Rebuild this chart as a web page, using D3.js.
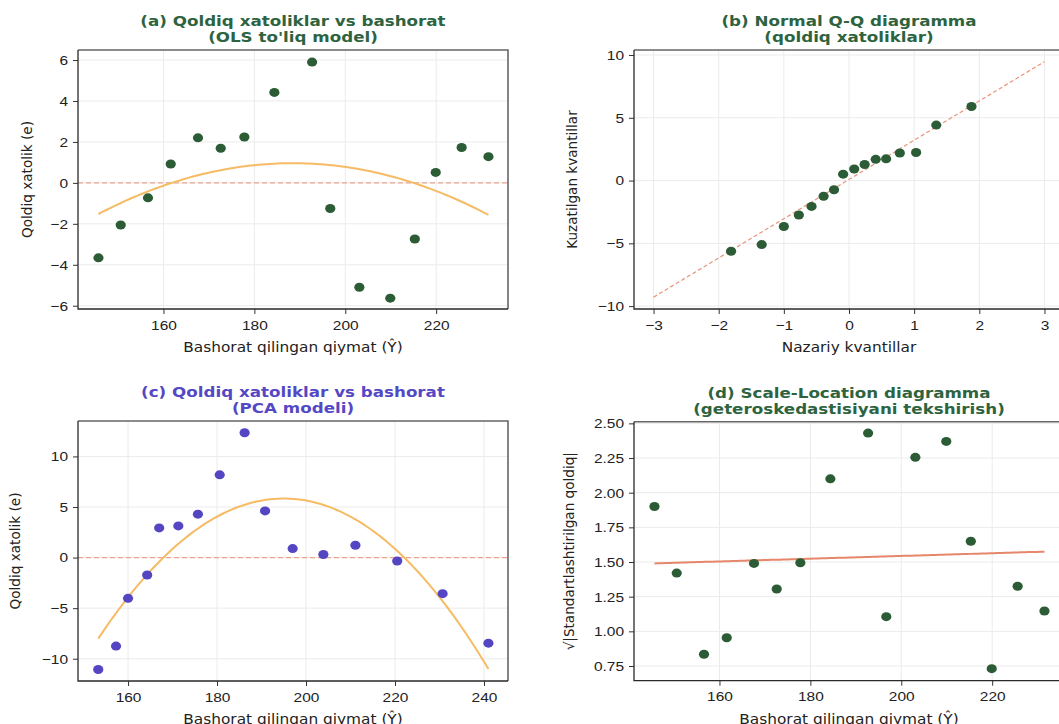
<!DOCTYPE html>
<html lang="en">
<head>
<meta charset="utf-8">
<script src="https://cdn.jsdelivr.net/npm/d3@7"></script>
<style>
    body { margin: 0; background: #fff; }
    svg { display: block; font-family: "DejaVu Sans", sans-serif; }
    .tick text { font-size: 13.7px; fill: #222; transform-box: fill-box; transform: scaleX(1.13); }
    .xax .tick text { transform-origin: center; }
    .yax .tick text { transform-origin: right center; }
    .hs { transform-box: fill-box; transform-origin: center; transform: scaleX(1.13); }
    .tick line { stroke: #333; }
    .domain { display: none; }
    .grid line { stroke: #ebebeb; stroke-width: 1; }
</style>
</head>
<body>
<script>
// (a) OLS model: fitted values and residuals
const fittedA = [145.7, 150.6, 156.6, 161.6, 167.6, 172.6, 177.8, 184.4, 192.7, 196.7, 203.1, 209.9, 215.3, 219.9, 225.6, 231.5];
const residA  = [-3.66, -2.06, -0.73, 0.92, 2.20, 1.69, 2.24, 4.42, 5.90, -1.25, -5.10, -5.63, -2.74, 0.51, 1.73, 1.28];

// (b) Q-Q: theoretical vs ordered residuals, plus reference line
const qqTheory   = [-1.81, -1.34, -1.00, -0.77, -0.575, -0.39, -0.23, -0.09, 0.08, 0.24, 0.41, 0.57, 0.78, 1.03, 1.34, 1.88];
const qqObserved = [-5.63, -5.10, -3.66, -2.74, -2.06, -1.25, -0.73, 0.51, 0.92, 1.28, 1.69, 1.73, 2.20, 2.24, 4.42, 5.90];
const qqLineX = [-3, 3];
const qqLineY = [-9.29, 9.47];

// (c) PCA model
const fittedC = [153.3, 157.3, 160.0, 164.3, 167.0, 171.3, 175.7, 180.6, 186.2, 190.8, 197.0, 203.9, 211.1, 220.5, 230.7, 241.0];
const residC  = [-11.06, -8.75, -4.03, -1.72, 2.93, 3.13, 4.29, 8.18, 12.34, 4.61, 0.89, 0.30, 1.22, -0.34, -3.57, -8.46];

// (d) scale-location
const sqrtStdResid = [1.90, 1.42, 0.835, 0.954, 1.49, 1.305, 1.495, 2.10, 2.43, 1.106, 2.255, 2.37, 1.65, 0.731, 1.325, 1.147];

const titles = [
    ["(a) Qoldiq xatoliklar vs bashorat", "(OLS to'liq model)"],
    ["(b) Normal Q-Q diagramma", "(qoldiq xatoliklar)"],
    ["(c) Qoldiq xatoliklar vs bashorat", "(PCA modeli)"],
    ["(d) Scale-Location diagramma", "(geteroskedastisiyani tekshirish)"]
];
const xLabels = ["Bashorat qilingan qiymat (\u0176)", "Nazariy kvantillar", "Bashorat qilingan qiymat (\u0176)", "Bashorat qilingan qiymat (\u0176)"];
const yLabels = ["Qoldiq xatolik (e)", "Kuzatilgan kvantillar", "Qoldiq xatolik (e)", "\u221A|Standartlashtirilgan qoldiq|"];

const green = "#2b5c35", purple = "#5446c2";
const titleGreen = "#2e6340", titlePurple = "#5548c4";
const orange = "#f5b75c", salmon = "#e9937a";

const w = 1059, h = 724;
const svg = d3.select("body").append("svg").attr("width", w).attr("height", h);

// least squares polynomial fit (deg 1 or 2)
function polyfit(xs, ys, deg) {
    let n = deg + 1;
    let A = [], b = [];
    for (let i = 0; i < n; i++) {
        A.push([]);
        for (let j = 0; j < n; j++) A[i].push(d3.sum(xs, x => Math.pow(x, i + j)));
        b.push(d3.sum(xs, (x, k) => Math.pow(x, i) * ys[k]));
    }
    for (let c = 0; c < n; c++) {
        for (let r = c + 1; r < n; r++) {
            let f = A[r][c] / A[c][c];
            for (let k = c; k < n; k++) A[r][k] -= f * A[c][k];
            b[r] -= f * b[c];
        }
    }
    let coef = new Array(n).fill(0);
    for (let r = n - 1; r >= 0; r--) {
        let s = b[r];
        for (let k = r + 1; k < n; k++) s -= A[r][k] * coef[k];
        coef[r] = s / A[r][r];
    }
    return x => coef.reduce((acc, c, i) => acc + c * Math.pow(x, i), 0);
}

function panel(o) {
    let g = svg.append("g");
    let x = d3.scaleLinear().domain(o.xDomain).range([o.left, o.right]);
    let y = d3.scaleLinear().domain(o.yDomain).range([o.bottom, o.top]);

    // grid
    g.append("g").attr("class", "grid").selectAll("line").data(o.xTicks).enter().append("line")
        .attr("x1", d => x(d)).attr("x2", d => x(d)).attr("y1", o.top).attr("y2", o.bottom);
    g.append("g").attr("class", "grid").selectAll("line").data(o.yTicks).enter().append("line")
        .attr("x1", o.left).attr("x2", o.right).attr("y1", d => y(d)).attr("y2", d => y(d));

    // axes
    g.append("g").attr("class", "xax").attr("transform", "translate(0," + o.bottom + ")")
        .call(d3.axisBottom(x).tickValues(o.xTicks).tickFormat(o.xFmt || d3.format("d")).tickSize(5).tickPadding(6));
    g.append("g").attr("class", "yax").attr("transform", "translate(" + o.left + ",0)")
        .call(d3.axisLeft(y).tickValues(o.yTicks).tickFormat(o.yFmt || d3.format("d")).tickSize(5).tickPadding(5));

    o.draw(g, x, y);

    // spines: top/right lighter, left/bottom darker
    g.append("path").attr("d", `M${o.left},${o.top}H${o.right}V${o.bottom}`)
        .attr("fill", "none").attr("stroke", "#666").attr("stroke-width", 1.6);
    g.append("path").attr("d", `M${o.left},${o.top}V${o.bottom}H${o.right}`)
        .attr("fill", "none").attr("stroke", "#2a2a2a").attr("stroke-width", 1.3);

    // titles
    let cx = o.titleX || (o.left + o.right) / 2;
    g.append("text").attr("class", "hs").attr("x", cx).attr("y", o.top - 24).attr("text-anchor", "middle")
        .attr("font-size", "14.8px").attr("font-weight", "bold").attr("fill", o.titleColor).text(o.title[0]);
    g.append("text").attr("class", "hs").attr("x", cx).attr("y", o.top - 8).attr("text-anchor", "middle")
        .attr("font-size", "14.8px").attr("font-weight", "bold").attr("fill", o.titleColor).text(o.title[1]);

    // axis labels
    g.append("text").attr("class", "hs").attr("x", cx).attr("y", o.bottom + 43).attr("text-anchor", "middle")
        .attr("font-size", "13.6px").attr("fill", "#222").text(o.xLabel);
    g.append("text").attr("transform", "translate(" + o.yLabelX + "," + ((o.top + o.bottom) / 2) + ") rotate(-90)")
        .attr("text-anchor", "middle").attr("font-size", "13.6px").attr("fill", "#222").text(o.yLabel);
}

function dots(g, xs, ys, x, y, color) {
    g.selectAll("ellipse.pt").data(xs).enter().append("ellipse").attr("class", "pt")
        .attr("cx", d => x(d)).attr("cy", (d, i) => y(ys[i])).attr("rx", 5.1).attr("ry", 4.5).attr("fill", color);
}

function zeroLine(g, x, y) {
    g.append("line").attr("x1", x.range()[0]).attr("x2", x.range()[1])
        .attr("y1", y(0)).attr("y2", y(0))
        .attr("stroke", salmon).attr("stroke-width", 1.3).attr("stroke-dasharray", "5,3").attr("opacity", 0.8);
}

function fitCurve(g, xs, ys, deg, x, y, color, width) {
    let f = polyfit(xs, ys, deg);
    let lo = d3.min(xs), hi = d3.max(xs);
    let pts = d3.range(0, 101).map(i => lo + (hi - lo) * i / 100);
    g.append("path").datum(pts)
        .attr("d", d3.line().x(d => x(d)).y(d => y(f(d))))
        .attr("fill", "none").attr("stroke", color).attr("stroke-width", width).attr("opacity", 0.95);
}

// (a)
panel({
    left: 78, right: 508, top: 50, bottom: 309,
    xDomain: [141.2, 235.8], yDomain: [-6.16, 6.49],
    xTicks: [160, 180, 200, 220], yTicks: [-6, -4, -2, 0, 2, 4, 6],
    title: titles[0], titleColor: titleGreen, xLabel: xLabels[0], yLabel: yLabels[0], yLabelX: 32,
    draw: (g, x, y) => {
        zeroLine(g, x, y);
        fitCurve(g, fittedA, residA, 2, x, y, orange, 2);
        dots(g, fittedA, residA, x, y, green);
    }
});

// (b)
panel({
    left: 634, right: 1064, top: 50, bottom: 309,
    xDomain: [-3.3, 3.3], yDomain: [-10.23, 10.4],
    xTicks: [-3, -2, -1, 0, 1, 2, 3], yTicks: [-10, -5, 0, 5, 10],
    title: titles[1], titleColor: titleGreen, titleX: 849,
    xLabel: xLabels[1], yLabel: yLabels[1], yLabelX: 577,
    draw: (g, x, y) => {
        g.append("line").attr("x1", x(qqLineX[0])).attr("x2", x(qqLineX[1]))
            .attr("y1", y(qqLineY[0])).attr("y2", y(qqLineY[1]))
            .attr("stroke", salmon).attr("stroke-width", 1.2).attr("stroke-dasharray", "4,2.5");
        dots(g, qqTheory, qqObserved, x, y, green);
    }
});

// (c)
panel({
    left: 78, right: 508, top: 421, bottom: 681,
    xDomain: [148.75, 245.4], yDomain: [-12.2, 13.5],
    xTicks: [160, 180, 200, 220, 240], yTicks: [-10, -5, 0, 5, 10],
    title: titles[2], titleColor: titlePurple, xLabel: xLabels[2], yLabel: yLabels[2], yLabelX: 20,
    draw: (g, x, y) => {
        zeroLine(g, x, y);
        fitCurve(g, fittedC, residC, 2, x, y, orange, 2);
        dots(g, fittedC, residC, x, y, purple);
    }
});

// (d)
panel({
    left: 634, right: 1064, top: 421.7, bottom: 680.7,
    xDomain: [141.2, 235.8], yDomain: [0.644, 2.512],
    xTicks: [160, 180, 200, 220], yTicks: [0.75, 1.0, 1.25, 1.5, 1.75, 2.0, 2.25, 2.5],
    yFmt: d3.format(".2f"),
    title: titles[3], titleColor: titleGreen, titleX: 849,
    xLabel: xLabels[3], yLabel: yLabels[3], yLabelX: 574,
    draw: (g, x, y) => {
        fitCurve(g, fittedA, sqrtStdResid, 1, x, y, "#e58063", 2);
        dots(g, fittedA, sqrtStdResid, x, y, green);
    }
});
</script>
</body>
</html>
